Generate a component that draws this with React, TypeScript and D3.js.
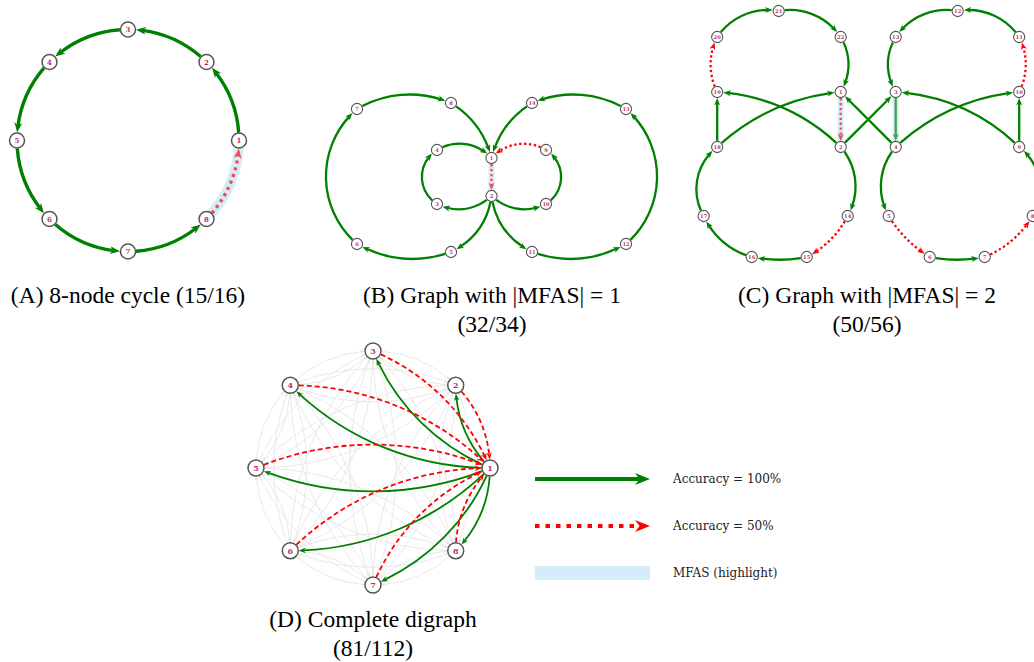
import * as d3 from 'd3'

type Pt = [number, number]

const GREEN = '#008000'
const RED = '#ff0000'
const HIGHLIGHT = '#d4edf9'
const GREY = '#e6e6e6'
const NODE_STROKE = '#555555'
const LABEL = '#b8336a'
const SERIF = "'Liberation Serif', 'Times New Roman', Times, serif"

// (A) 8-node cycle: [source, target, accuracy]
const cycleNodes = [1, 2, 3, 4, 5, 6, 7, 8]
const cycleEdges: [number, number, number][] = [
  [1, 2, 1], [2, 3, 1], [3, 4, 1], [4, 5, 1], [5, 6, 1], [6, 7, 1], [7, 8, 1], [8, 1, 0.5]
]
const cycleMfas: [number, number][] = [[8, 1]]

// (B) graph with |MFAS| = 1: layout coordinates [id, x, y]
const mfas1Nodes: [number, number, number][] = [
  [1, 0, -19], [2, 0, 19], [3, -54.5, 27], [4, -54.5, -27], [5, -40.5, 75], [6, -134.5, 67],
  [7, -134.5, -68], [8, -40.5, -74], [9, 54.5, -27], [10, 54.5, 27], [11, 40.5, 75],
  [12, 134.5, 67], [13, 134.5, -68], [14, 40.5, -74]
]
// [source, target, accuracy, bend]
const mfas1Edges: [number, number, number, number][] = [
  [1, 2, 0.5, 0], [2, 3, 1, 0.16], [3, 4, 1, 0.28], [4, 1, 1, 0.18],
  [2, 10, 1, -0.16], [10, 9, 1, -0.28], [9, 1, 0.5, -0.18],
  [2, 5, 1, 0.13], [5, 6, 1, 0.11], [6, 7, 1, 0.23], [7, 8, 1, 0.12], [8, 1, 1, 0.1],
  [2, 11, 1, -0.13], [11, 12, 1, -0.11], [12, 13, 1, -0.23], [13, 14, 1, -0.12], [14, 1, 1, -0.1]
]
const mfas1Mfas: [number, number][] = [[1, 2]]

// (C) graph with |MFAS| = 2
const mfas2Nodes: [number, number, number][] = [
  [1, -27.5, -42], [2, -27.5, 13], [3, 27.5, -42], [4, 27.5, 13], [5, 20.5, 82], [6, 61.5, 123],
  [7, 116.5, 123], [8, 164.5, 82], [9, 151, 13], [10, 151, -42], [11, 151, -97], [12, 89.5, -123],
  [13, 27.5, -97], [14, -20.5, 82], [15, -61.5, 123], [16, -116.5, 123], [17, -164.5, 82],
  [18, -151, 13], [19, -151, -42], [20, -151, -97], [21, -89.5, -123], [22, -27.5, -97]
]
const mfas2Edges: [number, number, number, number][] = [
  [19, 20, 0.5, 0.12], [20, 21, 1, 0.15], [21, 22, 1, 0.15], [22, 1, 1, 0.14], [1, 2, 0.5, 0],
  [2, 14, 1, 0.16], [14, 15, 0.5, 0.08], [15, 16, 1, 0.05], [16, 17, 1, 0.11], [17, 18, 1, 0.19],
  [18, 19, 1, 0], [18, 1, 1, 0.083], [2, 19, 1, -0.09], [2, 3, 1, 0], [4, 1, 1, 0], [3, 4, 1, 0],
  [10, 11, 0.5, -0.12], [11, 12, 1, -0.15], [12, 13, 1, -0.15], [13, 3, 1, -0.14],
  [4, 5, 1, -0.16], [5, 6, 0.5, -0.06], [6, 7, 1, -0.05], [7, 8, 0.5, -0.08], [8, 9, 1, -0.19],
  [9, 10, 1, 0], [9, 3, 1, -0.09], [4, 10, 1, 0.083]
]
const mfas2Mfas: [number, number][] = [[1, 2], [3, 4]]

// (D) complete digraph, edges touching node 1
const completeNodes = [1, 2, 3, 4, 5, 6, 7, 8]
const completeEdges: [number, number, number][] = [
  [1, 2, 1], [1, 3, 1], [1, 4, 1], [1, 5, 1], [1, 6, 1], [1, 7, 1], [1, 8, 1],
  [2, 1, 0.5], [3, 1, 0.5], [4, 1, 0.5], [5, 1, 0.5], [6, 1, 0.5], [7, 1, 0.5], [8, 1, 0.5]
]

const captions: [string, string][] = [
  ['(A) 8-node cycle (15/16)', ''],
  ['(B) Graph with |MFAS| = 1', '(32/34)'],
  ['(C) Graph with |MFAS| = 2', '(50/56)'],
  ['(D) Complete digraph', '(81/112)']
]
const legendLabels = ['Accuracy = 100%', 'Accuracy = 50%', 'MFAS (highlight)']

interface Style {
  id: string
  nodeR: number
  width: number
  arrow: number
  font: number
  dash: string
  hl: number
  bend: number
}

const styleA: Style = { id: 'a', nodeR: 7.5, width: 3.4, arrow: 10, font: 7, dash: '3,4', hl: 10, bend: 0 }
const styleB: Style = { id: 'b', nodeR: 5.6, width: 2.3, arrow: 7.5, font: 5.2, dash: '2.3,2.6', hl: 6, bend: 0 }
const styleC: Style = { id: 'c', nodeR: 5.6, width: 2.3, arrow: 7.5, font: 5.2, dash: '2.3,2.6', hl: 6, bend: 0 }
const styleD: Style = { id: 'd', nodeR: 8, width: 1.8, arrow: 7, font: 8, dash: '5,3', hl: 0, bend: 0.1 }

// circular arc from p1 to p2, bend = sagitta / chord (positive bulges to the left of travel)
function arcPath(p1: Pt, p2: Pt, k: number, r1: number, r2: number): string {
  const p = d3.path()
  const dx = p2[0] - p1[0], dy = p2[1] - p1[1]
  const c = Math.hypot(dx, dy)
  const ux = dx / c, uy = dy / c
  if (Math.abs(k) < 1e-4) {
    p.moveTo(p1[0] + ux * r1, p1[1] + uy * r1)
    p.lineTo(p2[0] - ux * r2, p2[1] - uy * r2)
    return p.toString()
  }
  const phi = 2 * Math.atan(2 * Math.abs(k))
  const R = c / (2 * Math.sin(phi))
  const side = k > 0 ? 1 : -1
  const off = R * Math.cos(phi)
  const cx = (p1[0] + p2[0]) / 2 - side * uy * off
  const cy = (p1[1] + p2[1]) / 2 + side * ux * off
  const a1 = Math.atan2(p1[1] - cy, p1[0] - cx) + side * 2 * Math.asin(Math.min(1, r1 / (2 * R)))
  const a2 = Math.atan2(p2[1] - cy, p2[0] - cx) - side * 2 * Math.asin(Math.min(1, r2 / (2 * R)))
  p.arc(cx, cy, R, a1, a2, k < 0)
  return p.toString()
}

function Marker({ id, color, size }: { id: string; color: string; size: number }) {
  return (
    <marker id={id} viewBox="0 -5 10 10" refX={4} refY={0} markerUnits="userSpaceOnUse"
      markerWidth={size} markerHeight={size} orient="auto">
      <path d="M0,-4L10,0L0,4L3,0Z" fill={color} />
    </marker>
  )
}

function Graph({ pos, edges, mfas, st, grey }: {
  pos: Map<number, Pt>
  edges: [number, number, number, number][]
  mfas: [number, number][]
  st: Style
  grey?: [number, number][]
}) {
  const isMfas = (s: number, t: number) => mfas.some(m => m[0] === s && m[1] === t)
  const ordered = [...edges].sort((a, b) => b[2] - a[2])
  return (
    <g>
      <defs>
        <Marker id={`${st.id}-g`} color={GREEN} size={st.arrow} />
        <Marker id={`${st.id}-r`} color={RED} size={st.arrow} />
        <Marker id={`${st.id}-x`} color={GREY} size={st.arrow * 0.7} />
      </defs>
      {grey && grey.map(([s, t], i) => (
        <path key={`x${i}`} d={arcPath(pos.get(s)!, pos.get(t)!, st.bend, st.nodeR, st.nodeR + st.arrow * 0.42)}
          fill="none" stroke={GREY} strokeWidth={0.9} markerEnd={`url(#${st.id}-x)`} />
      ))}
      {mfas.map(([s, t], i) => {
        const e = edges.find(d => d[0] === s && d[1] === t)!
        return (
          <path key={`h${i}`} d={arcPath(pos.get(s)!, pos.get(t)!, e[3], 0, 0)}
            fill="none" stroke={HIGHLIGHT} strokeWidth={st.hl} />
        )
      })}
      {ordered.map(([s, t, acc, k], i) => {
        const full = acc >= 1
        return (
          <path key={`e${i}`} d={arcPath(pos.get(s)!, pos.get(t)!, k, st.nodeR + 0.5, st.nodeR + 0.5 + st.arrow * 0.6)}
            fill="none" stroke={full ? GREEN : RED} strokeWidth={st.width}
            strokeDasharray={full ? undefined : st.dash}
            opacity={isMfas(s, t) ? 0.68 : 1}
            markerEnd={`url(#${st.id}-${full ? 'g' : 'r'})`} />
        )
      })}
      {[...pos.entries()].map(([id, p]) => (
        <g key={`n${id}`} transform={`translate(${p[0]},${p[1]})`}>
          <circle r={st.nodeR} fill="#ffffff" stroke={NODE_STROKE} strokeWidth={st.nodeR > 7 ? 1.5 : 1.1} />
          <text textAnchor="middle" dy="0.36em" fontFamily="DejaVu Serif" fontWeight="bold"
            fontSize={st.font} fill={LABEL}>{id}</text>
        </g>
      ))}
    </g>
  )
}

function circleLayout(ids: number[], cx: number, cy: number, r: number) {
  const angle = d3.scaleLinear().domain([0, ids.length]).range([0, 2 * Math.PI])
  return new Map<number, Pt>(ids.map((id, i) => [id, [cx + r * Math.cos(angle(i)), cy - r * Math.sin(angle(i))]]))
}

function gridLayout(nodes: [number, number, number][], cx: number, cy: number) {
  const xs = d3.scaleLinear().domain([-1, 1]).range([cx - 1, cx + 1])
  const ys = d3.scaleLinear().domain([-1, 1]).range([cy - 1, cy + 1])
  return new Map<number, Pt>(nodes.map(([id, x, y]) => [id, [xs(x), ys(y)]]))
}

export default function App() {
  const posA = circleLayout(cycleNodes, 128, 140.5, 111)
  const posB = gridLayout(mfas1Nodes, 491.5, 177)
  const posC = gridLayout(mfas2Nodes, 868.2, 134)
  const posD = circleLayout(completeNodes, 373, 468, 117)

  const bendA = -Math.tan(Math.PI / cycleNodes.length / 2) / 2
  const edgesA = cycleEdges.map(([s, t, a]) => [s, t, a, bendA] as [number, number, number, number])
  const edgesD = completeEdges.map(([s, t, a]) => [s, t, a, styleD.bend] as [number, number, number, number])
  const greyD: [number, number][] = []
  completeNodes.forEach(s => completeNodes.forEach(t => {
    if (s !== t && s !== 1 && t !== 1) greyD.push([s, t])
  }))

  const capX = [128, 492, 867, 373]
  const capY = [303, 303, 303, 627]
  const legendY = d3.scalePoint<string>().domain(legendLabels).range([479, 573])

  return (
    <svg width={1034} height={662} style={{ position: 'absolute', left: 0, top: 0, background: '#ffffff' }}>
      <defs>
        <Marker id="lg-g" color={GREEN} size={15} />
        <Marker id="lg-r" color={RED} size={15} />
      </defs>
      <Graph pos={posA} edges={edgesA} mfas={cycleMfas} st={styleA} />
      <Graph pos={posB} edges={mfas1Edges} mfas={mfas1Mfas} st={styleB} />
      <Graph pos={posC} edges={mfas2Edges} mfas={mfas2Mfas} st={styleC} />
      <Graph pos={posD} edges={edgesD} mfas={[]} st={styleD} grey={greyD} />

      {captions.map(([l1, l2], i) => (
        <text key={`c${i}`} x={capX[i]} y={capY[i]} textAnchor="middle" fontFamily={SERIF}
          fontSize={23.5} fill="#000">
          <tspan x={capX[i]}>{l1}</tspan>
          {l2 && <tspan x={capX[i]} dy={28.5}>{l2}</tspan>}
        </text>
      ))}

      <g>
        <path d={`M535,${legendY(legendLabels[0])}L641,${legendY(legendLabels[0])}`} stroke={GREEN}
          strokeWidth={4} markerEnd="url(#lg-g)" />
        <path d={`M535,${legendY(legendLabels[1])}L641,${legendY(legendLabels[1])}`} stroke={RED}
          strokeWidth={4} strokeDasharray="4.5,6" markerEnd="url(#lg-r)" />
        <rect x={535} y={legendY(legendLabels[2])! - 7} width={115} height={14} fill={HIGHLIGHT} />
        {legendLabels.map(l => (
          <text key={l} x={673} y={legendY(l)} dy="0.35em" fontFamily="DejaVu Serif" fontSize={12} fill="#222">{l}</text>
        ))}
      </g>
    </svg>
  )
}
